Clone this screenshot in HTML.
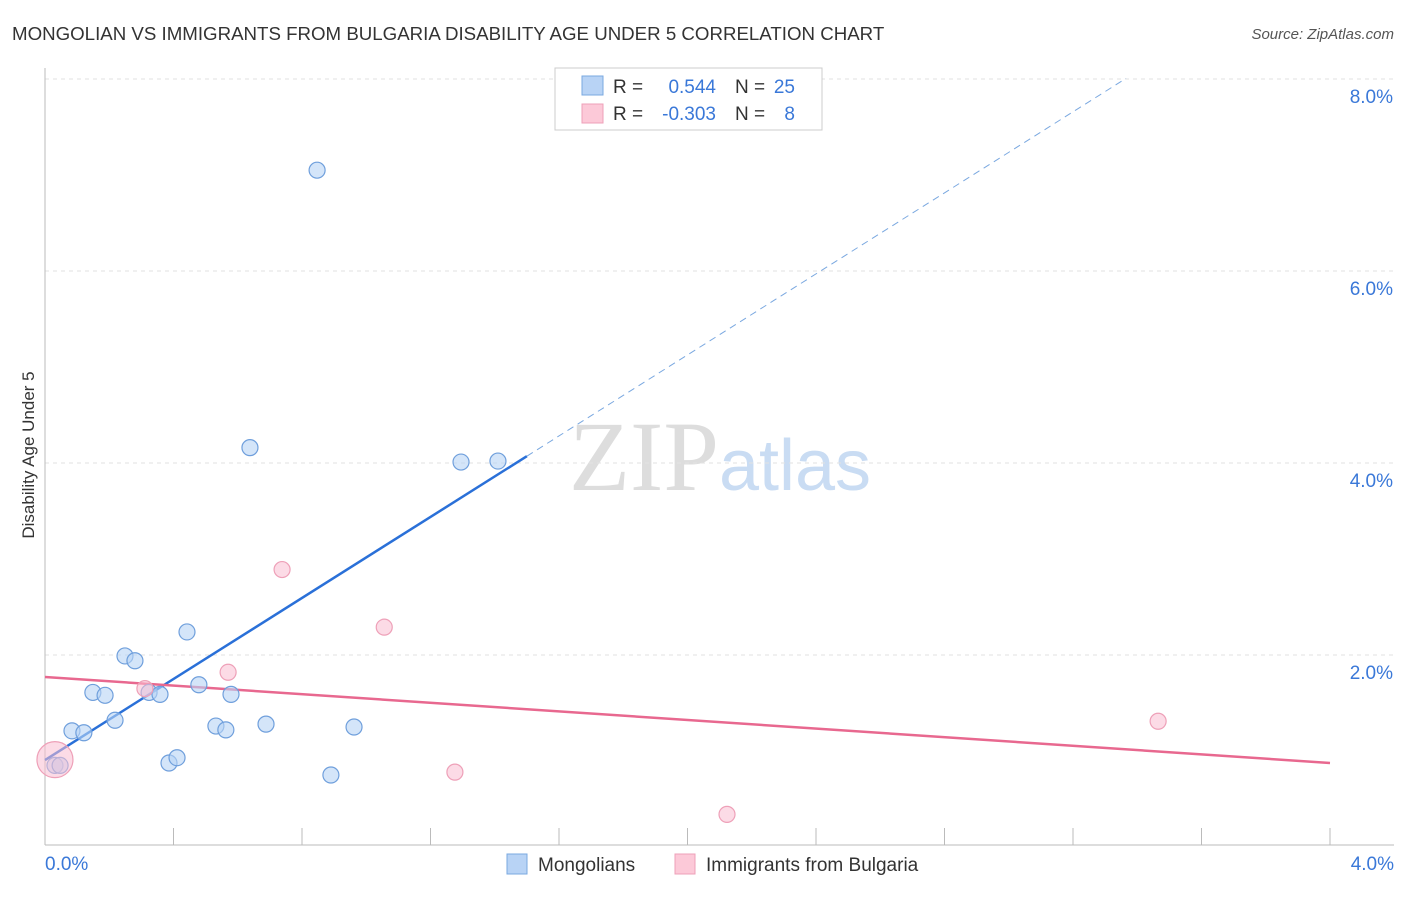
<!DOCTYPE html>
<html><head><meta charset="utf-8"><style>
body{margin:0;background:#fff;font-family:"Liberation Sans",sans-serif}
svg text{font-family:"Liberation Sans",sans-serif}
</style></head><body>
<svg id="chart" width="1406" height="892" xmlns="http://www.w3.org/2000/svg">
<text x="12" y="40" font-size="18.7" fill="#333">MONGOLIAN VS IMMIGRANTS FROM BULGARIA DISABILITY AGE UNDER 5 CORRELATION CHART</text>
<text x="1394" y="39" font-size="15" fill="#555" text-anchor="end" font-style="italic">Source: ZipAtlas.com</text>
<text x="720" y="490" font-size="100" text-anchor="middle"><tspan fill="#ddd" font-family="Liberation Serif">ZIP</tspan><tspan fill="#c9dcf3" font-size="72">atlas</tspan></text>
<text transform="translate(34,455) rotate(-90)" font-size="17" fill="#333" text-anchor="middle">Disability Age Under 5</text>
<g id="grid"></g><g id="axes"></g><g id="lines"></g><g id="pts"></g>
<g>
<rect x="555" y="68" width="267" height="62" fill="#fff" stroke="#ccc"/>
<rect x="582" y="76" width="21" height="19" fill="#b8d3f5" stroke="#7aa8e0"/>
<rect x="582" y="104" width="21" height="19" fill="#fcc9d8" stroke="#eea0b8"/>
<text x="613" y="93" font-size="19" fill="#333">R =</text>
<text x="716" y="93" font-size="19" fill="#3a78d8" text-anchor="end">0.544</text>
<text x="735" y="93" font-size="19" fill="#333">N =</text>
<text x="795" y="93" font-size="19" fill="#3a78d8" text-anchor="end">25</text>
<text x="613" y="120" font-size="19" fill="#333">R =</text>
<text x="716" y="120" font-size="19" fill="#3a78d8" text-anchor="end">-0.303</text>
<text x="735" y="120" font-size="19" fill="#333">N =</text>
<text x="795" y="120" font-size="19" fill="#3a78d8" text-anchor="end">8</text>
</g>
<g>
<rect x="507" y="854" width="20" height="20" fill="#b8d3f5" stroke="#7aa8e0"/>
<text x="538" y="871" font-size="19" fill="#333">Mongolians</text>
<rect x="675" y="854" width="20" height="20" fill="#fcc9d8" stroke="#eea0b8"/>
<text x="706" y="871" font-size="19" fill="#333">Immigrants from Bulgaria</text>
</g>
</svg>
<script>
const yTicks=[2,4,6,8];
const yTickLabels=["2.0%","4.0%","6.0%","8.0%"];
const xTickLabels=["0.0%","4.0%"];
const blueX=[0.031,0.047,0.084,0.121,0.149,0.187,0.218,0.249,0.280,0.324,0.358,0.386,0.411,0.442,0.479,0.532,0.563,0.579,0.638,0.688,0.847,0.890,0.962,1.295,1.410];
const blueY=[0.85,0.85,1.21,1.19,1.61,1.58,1.32,1.99,1.94,1.61,1.59,0.875,0.93,2.24,1.69,1.26,1.22,1.59,4.16,1.28,7.05,0.75,1.25,4.01,4.02];
const pinkX=[0.031,0.311,0.570,0.738,1.056,1.276,2.123,3.465];
const pinkY=[0.91,1.65,1.82,2.89,2.29,0.78,0.34,1.31];
const pinkSize=[18,8,8,8,8,8,8,8];
const blueFit=[0.906,2.11];
const pinkFit=[1.771,-0.224];
const X=v=>45+v*321.25, Y=v=>847-v*96;
const NS="http://www.w3.org/2000/svg";
function mk(p,t,a){const e=document.createElementNS(NS,t);for(const k in a)e.setAttribute(k,a[k]);p.appendChild(e);return e;}
const g=document.getElementById('grid'),ax=document.getElementById('axes'),ln=document.getElementById('lines'),pt=document.getElementById('pts');
yTicks.forEach((t,i)=>{
 const l=mk(g,'line',{x1:45,x2:1394,y1:Y(t),y2:Y(t),stroke:'#e2e2e2','stroke-dasharray':'4,4'});
 
 
 const tx=mk(g,'text',{x:1393,y:Y(t)+24,'font-size':19,fill:'#3a78d8','text-anchor':'end'});tx.textContent=yTickLabels[i];
 
 
});
const a1=mk(ax,'line',{x1:45,x2:45,y1:68,y2:845,stroke:'#bbb'});


const a2=mk(ax,'line',{x1:45,x2:1394,y1:845,y2:845,stroke:'#bbb'});


for(let i=1;i<=10;i++){const tk=mk(ax,'line',{x1:X(i*0.4),x2:X(i*0.4),y1:828,y2:845,stroke:'#bbb'});
 
 }
[[0,'start',45],[4,'end',1394]].forEach((d,i)=>{const tx=mk(ax,'text',{x:d[2],y:870,'font-size':19,fill:'#3a78d8','text-anchor':d[1]});tx.textContent=xTickLabels[i];
 
 });
const bx1=1.5, bx2=(8.0-blueFit[0])/blueFit[1]+0.003;
const bl=mk(ln,'line',{x1:X(0),y1:Y(blueFit[0]),x2:X(bx1),y2:Y(blueFit[0]+blueFit[1]*bx1),stroke:'#2a70d8','stroke-width':2.5});


const bd=mk(ln,'line',{x1:X(bx1),y1:Y(blueFit[0]+blueFit[1]*bx1),x2:X(bx2),y2:Y(blueFit[0]+blueFit[1]*bx2),stroke:'#7aa8e0','stroke-width':1,'stroke-dasharray':'7,5'});


const pl=mk(ln,'line',{x1:X(0),y1:Y(pinkFit[0]),x2:X(4),y2:Y(pinkFit[0]+pinkFit[1]*4),stroke:'#e8688f','stroke-width':2.5});


blueX.forEach((x,i)=>{const c=mk(pt,'circle',{cx:X(x),cy:Y(blueY[i]),r:8,fill:'rgba(184,211,245,0.6)',stroke:'#6f9fdc','stroke-width':1.2});
 
 });
pinkX.forEach((x,i)=>{const c=mk(pt,'circle',{cx:X(x),cy:Y(pinkY[i]),r:pinkSize[i],fill:'rgba(250,190,210,0.55)',stroke:'#eea0b8','stroke-width':1.2});
 
 });
</script>
</body></html>
